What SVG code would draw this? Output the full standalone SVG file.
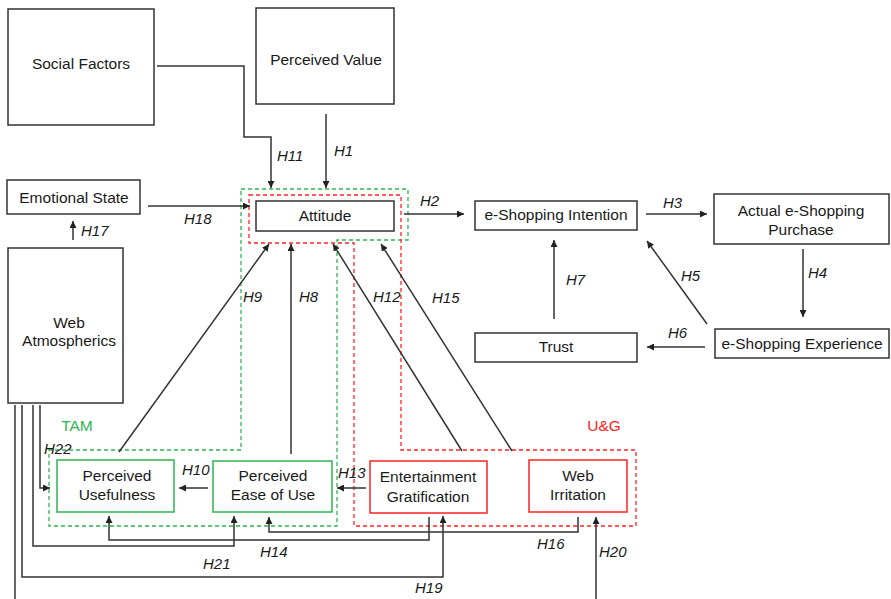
<svg xmlns="http://www.w3.org/2000/svg" width="891" height="599" viewBox="0 0 891 599">
  <defs>
    <marker id="arr" viewBox="0 0 10 10" refX="10" refY="5" markerWidth="7" markerHeight="7" markerUnits="userSpaceOnUse" orient="auto">
      <path d="M0,0 L10,5 L0,10 z" fill="#222"/>
    </marker>
    <style>
      .box { fill: #fff; stroke: #333; stroke-width: 1.5; }
      .gbox { fill: #fff; stroke: #2eb550; stroke-width: 1.5; }
      .rbox { fill: #fff; stroke: #f22; stroke-width: 1.5; }
      .gdash { fill: none; stroke: #2eb550; stroke-width: 1.3; stroke-dasharray: 4 3; }
      .rdash { fill: none; stroke: #f22; stroke-width: 1.3; stroke-dasharray: 4 3; }
      .lbl { font-family: "Liberation Sans", Arial, sans-serif; font-size: 15.5px; fill: #1a1a1a; text-anchor: middle; }
      .h { font-family: "Liberation Sans", Arial, sans-serif; font-size: 15px; font-style: italic; fill: #1a1a1a; }
      .con { fill: none; stroke: #333; stroke-width: 1.5; }
      .tag { font-family: "Liberation Sans", Arial, sans-serif; font-size: 15.5px; text-anchor: middle; }
    </style>
  </defs>
  <rect width="891" height="599" fill="#fff"/>

  <!-- group outlines -->
  <g id="regions">
    <polygon class="gdash" points="241,189 408,189 408,240 337,240 337,526 49,526 49,450 241,450"/>
    <polygon class="rdash" points="249,195 401,195 401,450 636,450 636,526 354,526 354,243 249,243"/>
    <text class="tag" x="77" y="431" fill="#2eb550">TAM</text>
    <text class="tag" x="604" y="431" fill="#f22">U&amp;G</text>
  </g>

  <g id="social-factors">
    <rect class="box" x="8" y="9" width="146" height="116"/>
    <text class="lbl" x="81" y="69">Social Factors</text>
  </g>
  <g id="perceived-value">
    <rect class="box" x="256" y="8" width="138" height="96"/>
    <text class="lbl" x="326" y="65">Perceived Value</text>
  </g>
  <g id="emotional-state">
    <rect class="box" x="7" y="180" width="133" height="34"/>
    <text class="lbl" x="74" y="203">Emotional State</text>
  </g>
  <g id="attitude">
    <rect class="box" x="256" y="201" width="138" height="30"/>
    <text class="lbl" x="325" y="221">Attitude</text>
  </g>
  <g id="e-shopping-intention">
    <rect class="box" x="475" y="201" width="162" height="29"/>
    <text class="lbl" x="556" y="220">e-Shopping Intention</text>
  </g>
  <g id="actual-purchase">
    <rect class="box" x="714" y="194" width="175" height="50"/>
    <text class="lbl" x="801" y="216">Actual e-Shopping</text>
    <text class="lbl" x="801" y="235">Purchase</text>
  </g>
  <g id="e-shopping-experience">
    <rect class="box" x="715" y="329" width="174" height="29"/>
    <text class="lbl" x="802" y="349">e-Shopping Experience</text>
  </g>
  <g id="trust">
    <rect class="box" x="475" y="333" width="162" height="29"/>
    <text class="lbl" x="556" y="352">Trust</text>
  </g>
  <g id="web-atmospherics">
    <rect class="box" x="8" y="248" width="115" height="155"/>
    <text class="lbl" x="69" y="328">Web</text>
    <text class="lbl" x="69" y="346">Atmospherics</text>
  </g>
  <g id="perceived-usefulness">
    <rect class="gbox" x="57" y="460" width="117" height="52"/>
    <text class="lbl" x="117" y="481">Perceived</text>
    <text class="lbl" x="117" y="500">Usefulness</text>
  </g>
  <g id="perceived-ease-of-use">
    <rect class="gbox" x="213" y="461" width="119" height="51"/>
    <text class="lbl" x="273" y="481">Perceived</text>
    <text class="lbl" x="273" y="500">Ease of Use</text>
  </g>
  <g id="entertainment-gratification">
    <rect class="rbox" x="370" y="461" width="117" height="52"/>
    <text class="lbl" x="428" y="482">Entertainment</text>
    <text class="lbl" x="428" y="502">Gratification</text>
  </g>
  <g id="web-irritation">
    <rect class="rbox" x="529" y="460" width="98" height="52"/>
    <text class="lbl" x="578" y="481">Web</text>
    <text class="lbl" x="578" y="500">Irritation</text>
  </g>

  <!-- connectors -->
  <g id="connectors">
    <polyline class="con" points="157,66 244,66 244,137 271,137 271,188" marker-end="url(#arr)"/>
    <line class="con" x1="326" y1="114" x2="326" y2="188" marker-end="url(#arr)"/>
    <line class="con" x1="148" y1="206" x2="250" y2="206" marker-end="url(#arr)"/>
    <line class="con" x1="73" y1="240" x2="73" y2="221" marker-end="url(#arr)"/>
    <line class="con" x1="404" y1="214" x2="464" y2="214" marker-end="url(#arr)"/>
    <line class="con" x1="646" y1="214" x2="707" y2="214" marker-end="url(#arr)"/>
    <line class="con" x1="803" y1="249" x2="803" y2="317" marker-end="url(#arr)"/>
    <line class="con" x1="705" y1="347" x2="647" y2="347" marker-end="url(#arr)"/>
    <line class="con" x1="707" y1="324" x2="647" y2="241" marker-end="url(#arr)"/>
    <line class="con" x1="554" y1="319" x2="554" y2="240" marker-end="url(#arr)"/>
    <line class="con" x1="512" y1="451" x2="381" y2="244" marker-end="url(#arr)"/>
    <line class="con" x1="462" y1="451" x2="333" y2="244" marker-end="url(#arr)"/>
    <line class="con" x1="291" y1="454" x2="291" y2="244" marker-end="url(#arr)"/>
    <line class="con" x1="119" y1="452" x2="269" y2="244" marker-end="url(#arr)"/>
    <line class="con" x1="208" y1="488" x2="179" y2="488" marker-end="url(#arr)"/>
    <line class="con" x1="366" y1="488" x2="337" y2="488" marker-end="url(#arr)"/>
    <polyline class="con" points="40,405 40,488 50,488" marker-end="url(#arr)"/>
    <polyline class="con" points="33,405 33,546 234,546 234,516" marker-end="url(#arr)"/>
    <polyline class="con" points="22,405 22,577 443,577 443,516" marker-end="url(#arr)"/>
    <line class="con" x1="15" y1="405" x2="15" y2="599"/>
    <line class="con" x1="596" y1="599" x2="596" y2="517" marker-end="url(#arr)"/>
    <polyline class="con" points="429,517 429,540 109,540 109,516" marker-end="url(#arr)"/>
    <polyline class="con" points="578,517 578,532 269,532 269,517" marker-end="url(#arr)"/>
  </g>

  <!-- hypothesis labels -->
  <g id="labels">
    <text class="h" x="277" y="161">H11</text>
    <text class="h" x="334" y="156">H1</text>
    <text class="h" x="184" y="224">H18</text>
    <text class="h" x="81" y="236">H17</text>
    <text class="h" x="420" y="206">H2</text>
    <text class="h" x="663" y="208">H3</text>
    <text class="h" x="808" y="278">H4</text>
    <text class="h" x="681" y="281">H5</text>
    <text class="h" x="668" y="338">H6</text>
    <text class="h" x="566" y="285">H7</text>
    <text class="h" x="432" y="303">H15</text>
    <text class="h" x="243" y="302">H9</text>
    <text class="h" x="299" y="302">H8</text>
    <text class="h" x="373" y="302">H12</text>
    <text class="h" x="44" y="454">H22</text>
    <text class="h" x="182" y="475">H10</text>
    <text class="h" x="338" y="478">H13</text>
    <text class="h" x="260" y="557">H14</text>
    <text class="h" x="203" y="569">H21</text>
    <text class="h" x="415" y="593">H19</text>
    <text class="h" x="537" y="549">H16</text>
    <text class="h" x="599" y="557">H20</text>
  </g>
</svg>
